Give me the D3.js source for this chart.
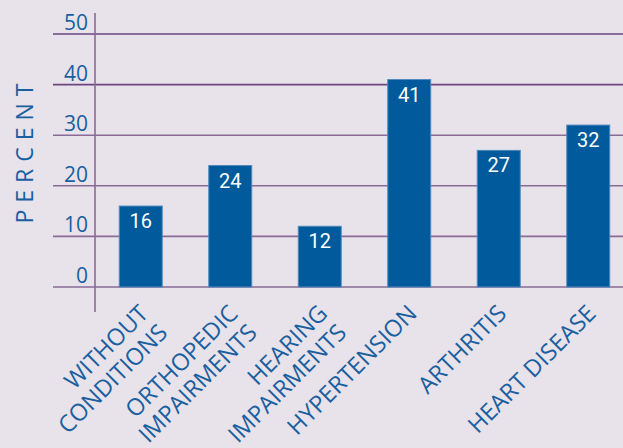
<!DOCTYPE html>
<html>
<head>
<meta charset="utf-8">
<script src="https://cdn.jsdelivr.net/npm/d3@7"></script>
<style>
  html, body { margin: 0; padding: 0; background: #e8e2ea; }
  svg { display: block; }
</style>
</head>
<body>
<svg id="chart" width="623" height="448"></svg>
<script>
// Chart data
var categories = ["WITHOUT|CONDITIONS", "ORTHOPEDIC|IMPAIRMENTS", "HEARING|IMPAIRMENTS",
                  "HYPERTENSION", "ARTHRITIS", "HEART DISEASE"];
var percents = [16, 24, 12, 41, 27, 32];
var yTicks = [0, 10, 20, 30, 40, 50];

var svg = d3.select('#chart');
var blue = '#1a5f9f';

// Scales
var x = d3.scaleBand().domain(categories).range([96, 633]).paddingInner(0.52).paddingOuter(0.26);
var y = d3.scaleLinear().domain([0, 50]).range([287, 34]);

// Gridlines
svg.append('g').selectAll('line')
    .data(yTicks)
    .join('line')
    .attr('x1', 53).attr('x2', 623)
    .attr('y1', function(d) { return y(d); })
    .attr('y2', function(d) { return y(d); })
    .attr('stroke', function(d) { return d >= 40 ? '#6e4480' : '#8a6b96'; })
    .attr('stroke-width', 1.6);

// Vertical axis line
svg.append('line')
    .attr('x1', 95).attr('x2', 95)
    .attr('y1', 13).attr('y2', 312)
    .attr('stroke', '#8a6b96')
    .attr('stroke-width', 1.6);

// Tick labels
svg.append('g').selectAll('text')
    .data(yTicks)
    .join('text')
    .attr('x', 88)
    .attr('y', function(d) { return y(d) - 4; })
    .attr('text-anchor', 'end')
    .attr('font-family', 'Open Sans, sans-serif')
    .attr('font-size', '21px')
    .attr('fill', blue)
    .text(function(d) { return d; });

// Y axis title
svg.append('text')
    .attr('transform', 'translate(33,150) rotate(-90)')
    .attr('text-anchor', 'middle')
    .attr('font-family', 'Open Sans, sans-serif')
    .attr('font-size', '23px')
    .attr('letter-spacing', '7px')
    .attr('fill', blue)
    .text('PERCENT');

// Bars
svg.append('g').selectAll('rect')
    .data(percents)
    .join('rect')
    .attr('x', function(d, i) { return x(categories[i]); })
    .attr('y', function(d) { return y(d); })
    .attr('width', x.bandwidth())
    .attr('height', function(d) { return y(0) - y(d); })
    .attr('fill', '#005a9c')
    .attr('stroke', '#4f88bd')
    .attr('stroke-width', 1);

// Value labels inside bars
svg.append('g').selectAll('text')
    .data(percents)
    .join('text')
    .attr('x', function(d, i) { return x(categories[i]) + x.bandwidth() / 2; })
    .attr('y', function(d) { return y(d) + 22; })
    .attr('text-anchor', 'middle')
    .attr('font-family', 'Roboto, sans-serif')
    .attr('font-size', '20px')
    .attr('fill', '#ffffff')
    .text(function(d) { return d; });

// Category labels, rotated
var catLabels = svg.append('g').selectAll('text')
    .data(categories)
    .join('text')
    .attr('transform', function(d) {
        var cx = x(d) + x.bandwidth() / 2 + 9;
        return 'translate(' + cx + ',315) rotate(-45)';
    })
    .attr('text-anchor', 'end')
    .attr('font-family', 'Open Sans, sans-serif')
    .attr('font-size', '23.5px')
    .attr('fill', blue);

catLabels.selectAll('tspan')
    .data(function(d) { return d.split('|'); })
    .join('tspan')
    .attr('x', 0)
    .attr('dy', function(d, i) { return i === 0 ? 0 : '1.15em'; })
    .text(function(d) { return d; });
</script>
</body>
</html>
